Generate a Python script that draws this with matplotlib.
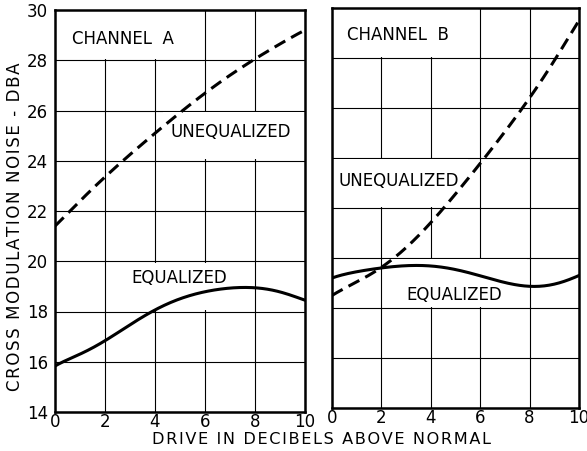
import numpy as np
import matplotlib.pyplot as plt
from matplotlib.patches import Rectangle

drive = [0, 1, 2, 3, 4, 5, 6, 7, 8, 9, 10]

a_unequalized = [21.4, 22.4, 23.35, 24.25, 25.1, 25.9, 26.7, 27.4, 28.05, 28.65, 29.2]
a_equalized = [15.83, 16.3, 16.85, 17.45, 18.08, 18.5, 18.78, 18.94, 18.94, 18.78, 18.45]
b_unequalized = [18.5, 19.05, 19.6, 20.45, 21.4, 22.55, 23.8, 25.05, 26.4, 27.9, 29.5]
b_equalized = [19.2, 19.45, 19.6, 19.7, 19.67, 19.54, 19.3, 19.0, 18.88, 18.95, 19.3]

x_ticks = [0, 2, 4, 6, 8, 10]
y_ticks = [14, 16, 18, 20, 22, 24, 26, 28, 30]

plt.rcParams['font.family'] = 'DejaVu Sans'


def spaced(s):
    # lettering in the original is spread out, pad with hair spaces
    return '\u200a'.join(s)


def smooth(x, y):
    xs = np.linspace(x[0], x[-1], 200)
    coef = np.polyfit(x, y, 7)
    return xs, np.polyval(coef, xs)


def panel(ax, uneq, eq, boxes, labels):
    ax.set_xlim(0, 10)
    ax.set_ylim(14, 30)
    ax.set_xticks(x_ticks)
    ax.set_yticks(y_ticks)
    ax.grid(True, color='black', linewidth=0.8)
    ax.tick_params(axis='x', length=0, labelsize=12, pad=1)
    ax.tick_params(axis='y', length=0, labelsize=12, pad=5)
    for s in ax.spines.values():
        s.set_linewidth(1.8)
    for (x0, x1, y0, y1) in boxes:
        ax.add_patch(Rectangle((x0, y0), x1 - x0, y1 - y0, facecolor='white',
                               edgecolor='none', zorder=2))
    xs, ys = smooth(drive, uneq)
    ax.plot(xs, ys, color='black', linewidth=2.2, linestyle=(0, (4, 2.2)), zorder=3)
    xs, ys = smooth(drive, eq)
    ax.plot(xs, ys, color='black', linewidth=2.2, zorder=3)
    for (tx, ty, t) in labels:
        ax.text(tx, ty, t, fontsize=12, ha='left', va='center', zorder=4)
    ax.set_axisbelow(True)


fig = plt.figure(figsize=(5.87, 4.51), dpi=100)
ax1 = fig.add_axes([55 / 587, 1 - 412 / 451, 250 / 587, 402 / 451])
ax2 = fig.add_axes([332 / 587, 1 - 408 / 451, 247 / 587, 400 / 451])

panel(ax1, a_unequalized, a_equalized,
      [(0.02, 5.9, 28.05, 29.95), (4.3, 9.98, 24.05, 25.95), (2.2, 7.7, 18.05, 19.95)],
      [(0.7, 28.85, 'CHANNEL  A'), (4.6, 25.15, 'UNEQUALIZED'),
       (3.05, 19.35, 'EQUALIZED')])
panel(ax2, b_unequalized, b_equalized,
      [(0.02, 5.9, 28.05, 29.95), (0.02, 5.5, 22.05, 23.95), (2.1, 7.9, 18.05, 19.95)],
      [(0.6, 28.9, 'CHANNEL  B'), (0.25, 23.1, 'UNEQUALIZED'),
       (3.0, 18.5, 'EQUALIZED')])
ax2.set_yticklabels([])

fig.text(15 / 587, 1 - 227 / 451, spaced('CROSS MODULATION NOISE - DBA'), rotation=90,
         ha='center', va='center', fontsize=12)
fig.text(322 / 587, 1 - 440 / 451, spaced('DRIVE IN DECIBELS ABOVE NORMAL'),
         ha='center', va='center', fontsize=11.6)

fig.savefig('out.png', dpi=100)
plt.close()
